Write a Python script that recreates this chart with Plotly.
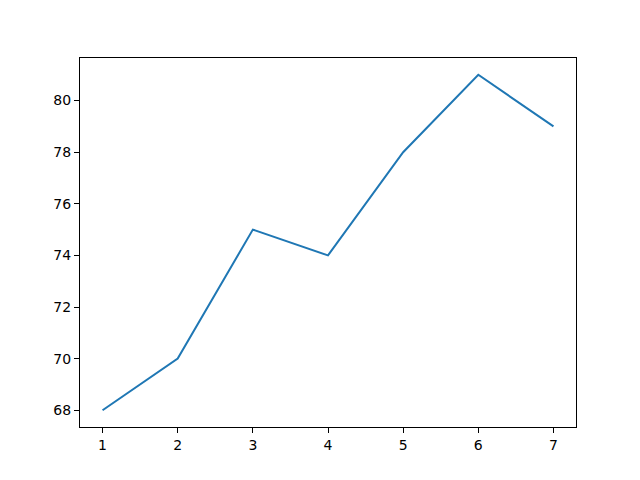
import plotly.graph_objects as go

# data
days = [1, 2, 3, 4, 5, 6, 7]
temps = [68, 70, 75, 74, 78, 81, 79]

x_ticks = [1, 2, 3, 4, 5, 6, 7]
y_ticks = [68, 70, 72, 74, 76, 78, 80]

fig = go.Figure()
fig.add_trace(go.Scatter(x=days, y=temps, mode='lines',
                         line=dict(color='#1f77b4', width=2)))

axis_style = dict(
    showgrid=False, zeroline=False,
    showline=True, mirror=True, linecolor='black', linewidth=1,
    ticks='outside', ticklen=5, tickwidth=1, tickcolor='black',
    tickfont=dict(family='DejaVu Sans', size=14, color='black'),
)

# the page body adds an 8px offset, so margins are shifted to compensate
fig.update_layout(
    width=640, height=480,
    margin=dict(l=72, r=72, t=50, b=61),
    paper_bgcolor='white', plot_bgcolor='white',
    showlegend=False,
    xaxis=dict(range=[0.7, 7.3], tickvals=x_ticks, **axis_style),
    yaxis=dict(range=[67.35, 81.65], tickvals=y_ticks, **axis_style),
)

fig.write_html("out.html")
